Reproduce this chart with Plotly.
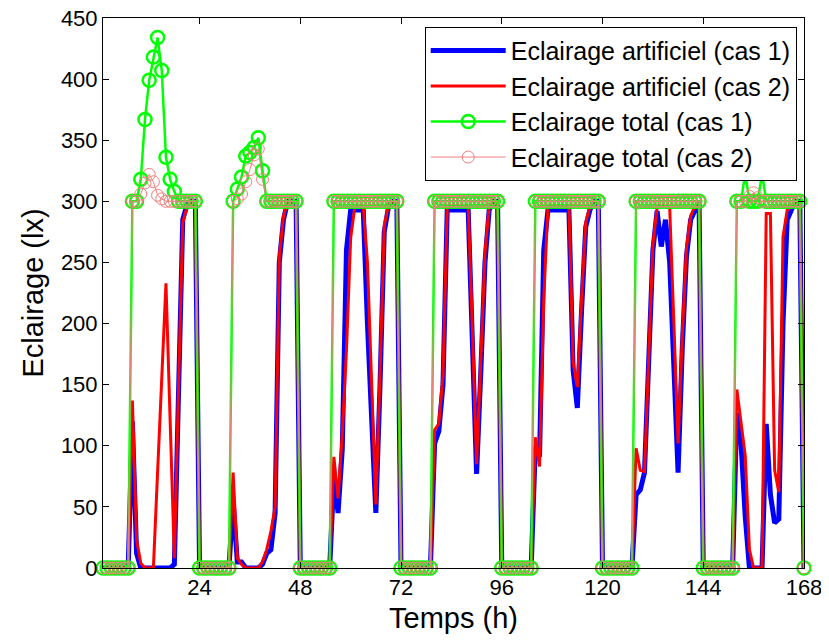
import plotly.graph_objects as go

hours = list(range(1, 169))
x_ticks = [24, 48, 72, 96, 120, 144, 168]
y_ticks = [0, 50, 100, 150, 200, 250, 300, 350, 400, 450]

# Eclairage artificiel (cas 1)
art_cas1 = (
    [0, 0, 0, 0, 0, 0, 0]
    + [120, 12, 0, 0, 0, 0, 0, 0, 0, 0, 3, 145, 285, 297, 300, 300]
    + [0, 0, 0, 0, 0, 0, 0, 0]
    + [55, 5, 5, 0, 0, 0, 0, 3, 12, 15, 45, 250, 285, 300, 300, 300]
    + [0, 0, 0, 0, 0, 0, 0, 0]
    + [75, 45, 97, 260, 293, 293, 293, 293, 200, 120, 45, 150, 275, 295, 300, 300]
    + [0, 0, 0, 0, 0, 0, 0, 0]
    + [102, 112, 150, 293, 293, 293, 293, 293, 293, 185, 77, 160, 250, 293, 300, 300]
    + [0, 0, 0, 0, 0, 0, 0, 0]
    + [100, 91, 260, 293, 293, 293, 293, 293, 293, 162, 131, 210, 279, 293, 300, 300]
    + [0, 0, 0, 0, 0, 0, 0, 0]
    + [60, 64, 78, 170, 260, 292, 263, 285, 250, 165, 78, 180, 255, 285, 293, 300]
    + [0, 0, 0, 0, 0, 0, 0, 0]
    + [127, 102, 42, 0, 0, 0, 0, 118, 60, 37, 40, 200, 285, 293, 300, 300]
    + [0]
)

# Eclairage artificiel (cas 2)
art_cas2 = (
    [0, 0, 0, 0, 0, 0, 0]
    + [137, 23, 4, 0, 0, 0, 78, 155, 233, 120, 8, 150, 283, 295, 300, 300]
    + [0, 0, 0, 0, 0, 0, 0, 0]
    + [78, 8, 3, 0, 0, 0, 0, 5, 15, 30, 50, 255, 288, 300, 300, 300]
    + [0, 0, 0, 0, 0, 0, 0, 0]
    + [91, 57, 110, 178, 270, 296, 296, 296, 250, 150, 52, 160, 280, 297, 300, 300]
    + [0, 0, 0, 0, 0, 0, 0, 0]
    + [113, 118, 158, 295, 296, 296, 296, 296, 296, 195, 85, 170, 258, 296, 300, 300]
    + [0, 0, 0, 0, 0, 0, 0, 0]
    + [107, 83, 220, 296, 296, 296, 296, 296, 296, 168, 148, 220, 283, 296, 300, 300]
    + [0, 0, 0, 0, 0, 0, 0, 0]
    + [98, 80, 79, 170, 265, 295, 296, 296, 295, 200, 102, 190, 262, 288, 296, 300]
    + [0, 0, 0, 0, 0, 0, 0, 0]
    + [146, 118, 92, 15, 0, 0, 0, 290, 290, 80, 62, 271, 293, 296, 300, 300]
    + [0]
)

# Eclairage total (cas 1)
tot_cas1 = (
    [0, 0, 0, 0, 0, 0, 0]
    + [300, 300, 318, 367, 399, 418, 434, 407, 336, 318, 308, 300, 300, 300, 300, 300]
    + [0, 0, 0, 0, 0, 0, 0, 0]
    + [300, 310, 320, 337, 340, 344, 352, 325, 300, 300, 300, 300, 300, 300, 300, 300]
    + [0, 0, 0, 0, 0, 0, 0, 0]
    + [300, 300, 300, 300, 300, 300, 300, 300, 300, 300, 300, 300, 300, 300, 300, 300]
    + [0, 0, 0, 0, 0, 0, 0, 0]
    + [300, 300, 300, 300, 300, 300, 300, 300, 300, 300, 300, 300, 300, 300, 300, 300]
    + [0, 0, 0, 0, 0, 0, 0, 0]
    + [300, 300, 300, 300, 300, 300, 300, 300, 300, 300, 300, 300, 300, 300, 300, 300]
    + [0, 0, 0, 0, 0, 0, 0, 0]
    + [300, 300, 300, 300, 300, 300, 300, 300, 300, 300, 300, 300, 300, 300, 300, 300]
    + [0, 0, 0, 0, 0, 0, 0, 0]
    + [300, 300, 323, 300, 300, 300, 323, 300, 300, 300, 300, 300, 300, 300, 300, 300]
    + [0]
)

# Eclairage total (cas 2)
tot_cas2 = (
    [0, 0, 0, 0, 0, 0, 0]
    + [300, 300, 306, 315, 322, 316, 305, 302, 300, 300, 300, 300, 300, 300, 300, 300]
    + [0, 0, 0, 0, 0, 0, 0, 0]
    + [300, 302, 306, 316, 326, 338, 343, 318, 300, 300, 300, 300, 300, 300, 300, 300]
    + [0, 0, 0, 0, 0, 0, 0, 0]
    + [300, 300, 300, 300, 300, 300, 300, 300, 300, 300, 300, 300, 300, 300, 300, 300]
    + [0, 0, 0, 0, 0, 0, 0, 0]
    + [300, 300, 300, 300, 300, 300, 300, 300, 300, 300, 300, 300, 300, 300, 300, 300]
    + [0, 0, 0, 0, 0, 0, 0, 0]
    + [300, 300, 300, 300, 300, 300, 300, 300, 300, 300, 300, 300, 300, 300, 300, 300]
    + [0, 0, 0, 0, 0, 0, 0, 0]
    + [300, 300, 300, 300, 300, 300, 300, 300, 300, 300, 300, 300, 300, 300, 300, 300]
    + [0, 0, 0, 0, 0, 0, 0, 0]
    + [300, 300, 300, 304, 307, 303, 300, 300, 300, 300, 300, 300, 300, 300, 300, 300]
    + [0]
)

FONT = "Liberation Sans, Arial, sans-serif"

fig = go.Figure()
fig.add_trace(go.Scatter(
    x=hours, y=art_cas1, mode="lines", name="Eclairage artificiel (cas 1)",
    line=dict(color="#0000FF", width=5), cliponaxis=False, legendgroup="a"))
fig.add_trace(go.Scatter(
    x=hours, y=art_cas2, mode="lines", name="Eclairage artificiel (cas 2)",
    line=dict(color="#FF0000", width=3), cliponaxis=False, legendgroup="b"))
fig.add_trace(go.Scatter(
    x=hours, y=tot_cas1, mode="lines+markers", name="Eclairage total (cas 1)",
    line=dict(color="#00FF00", width=2.5),
    marker=dict(symbol="circle-open", size=13, color="#00FF00", line=dict(width=2.5)),
    cliponaxis=False, legendgroup="c"))
fig.add_trace(go.Scatter(
    x=hours, y=tot_cas2, mode="lines+markers", name="Eclairage total (cas 2)",
    line=dict(color="#F08080", width=1),
    marker=dict(symbol="circle-open", size=12, color="#F08080", line=dict(width=1)),
    cliponaxis=False, legendgroup="d"))

axis_common = dict(
    showline=True, linecolor="black", linewidth=1, mirror="ticks",
    ticks="inside", ticklen=6, tickcolor="black", showgrid=False, zeroline=False,
    tickfont=dict(family=FONT, size=22, color="black"), automargin=False,
    ticklabeloverflow="allow",
)

# page body has an 8px default margin: the figure is offset to compensate
fig.update_layout(
    width=821, height=635,
    margin=dict(l=95, r=25, t=10, b=75),
    paper_bgcolor="white", plot_bgcolor="white",
    font=dict(family=FONT, color="black"),
    xaxis=dict(range=[1, 168], tickvals=x_ticks,
               title=dict(text="Temps (h)", font=dict(family=FONT, size=29), standoff=8),
               **axis_common),
    yaxis=dict(range=[0, 450], tickvals=y_ticks,
               title=dict(text="Eclairage (lx)", font=dict(family=FONT, size=29), standoff=8),
               **axis_common),
    legend=dict(x=0.9896, y=0.984, xanchor="right", yanchor="top",
                bgcolor="white", bordercolor="black", borderwidth=1,
                font=dict(family=FONT, size=25, color="black"),
                tracegroupgap=0, itemwidth=75),
    showlegend=True,
)

fig.write_html("out.html")
